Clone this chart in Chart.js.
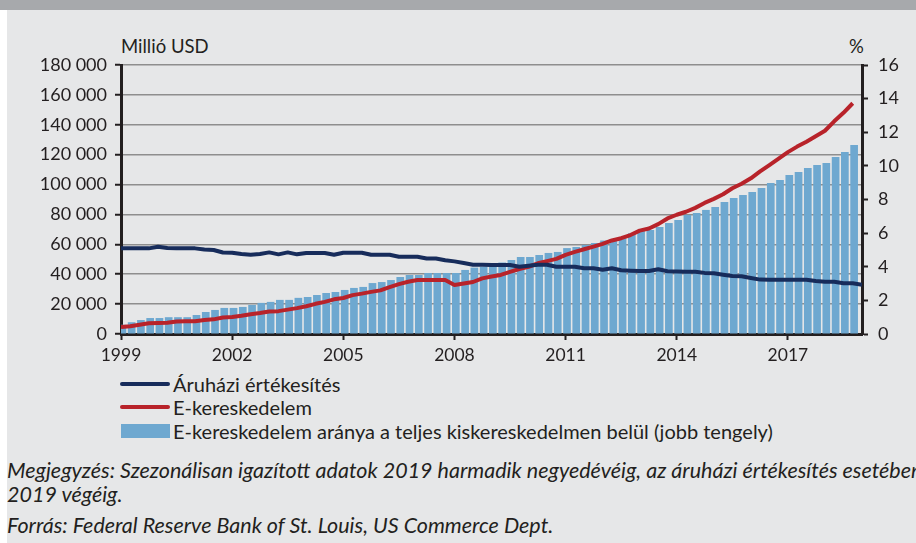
<!DOCTYPE html>
<html>
<head>
<meta charset="utf-8">
<script src="https://cdn.jsdelivr.net/npm/chart.js@4.4.1/dist/chart.umd.min.js"></script>
<style>
html,body{margin:0;padding:0;background:#fff;}
#page{position:relative;width:916px;height:543px;overflow:hidden;background:#fff;font-family:Lato,"Open Sans",sans-serif;color:#231f20;}
#topbar{position:absolute;left:0;top:0;width:916px;height:10px;background:#a7a9ac;}
#panel{position:absolute;left:7px;top:10px;width:909px;height:533px;background:#e6e7e8;}
#chartWrap{position:absolute;left:0;top:0;width:916px;height:372px;}
.lbl{position:absolute;font-size:18.5px;line-height:20px;white-space:nowrap;}
.note{font-style:italic;font-size:21.5px;line-height:24px;}
.legRow{position:absolute;left:120px;height:20px;font-size:20px;line-height:20px;white-space:nowrap;}
.legSw{position:absolute;left:0;}
.legTx{position:absolute;left:53px;top:0;}
</style>
</head>
<body>
<div id="page">
  <div id="topbar"></div>
  <div id="panel"></div>
  <div class="lbl" style="left:121px;top:36px;">Millió USD</div>
  <div class="lbl" style="left:849px;top:36px;">%</div>
  <div id="chartWrap"><canvas id="c" width="916" height="372"></canvas></div>
  <div id="legend"></div>
  <div class="lbl note" style="left:7px;top:458px;">Megjegyzés: Szezonálisan igazított adatok 2019 harmadik negyedévéig, az áruházi értékesítés esetében</div>
  <div class="lbl note" style="left:7px;top:482px;">2019 végéig.</div>
  <div class="lbl note" style="left:7px;top:513px;">Forrás: Federal Reserve Bank of St. Louis, US Commerce Dept.</div>
</div>
<script>
// Quarterly data, first observation at the start of the axis (1999), one point per quarter
const startYear = 1999;
const endYear = 2019;

const deptStoreSales = [
  57300,57300,57300,57300,58400,57500,57300,57300,57300,56500,
  56200,54500,54400,53500,53100,53500,54600,53300,54600,53300,
  54200,54200,54200,53000,54400,54400,54400,53000,53000,53000,
  51700,51700,51700,50500,50500,49300,48600,47500,46300,46300,
  46200,46200,46200,45000,45700,46300,46300,45000,45000,45000,
  44000,44000,43000,44000,42700,42400,42100,42100,43300,42000,
  41800,41700,41700,40900,40700,39700,38800,38600,37500,36400,
  36300,36300,36300,36300,36300,35500,35000,35000,34000,33900,
  32900
];

const ecommerceSales = [
  4600,5200,6200,7200,7300,7500,8400,8500,8600,9400,
  9800,11000,11400,12200,13200,14000,15000,15300,16300,17300,
  18600,20200,21500,23200,24100,26000,27000,28200,29200,31400,
  33400,35000,36100,36100,36100,36100,32800,33800,34800,37200,
  38500,39500,41600,43500,45000,47300,48800,50300,53000,55000,
  56700,58500,60300,62600,64100,66200,69200,70600,73500,77300,
  79800,81800,84400,87700,90400,93500,97500,100500,104200,108800,
  113000,117300,121700,125400,128700,132300,136000,142300,148000,154400
];

const ecommerceShare = [
  0.55,0.7,0.83,0.95,0.95,1.0,1.0,1.0,1.13,1.31,
  1.43,1.55,1.55,1.61,1.73,1.85,1.91,2.03,2.03,2.15,
  2.2,2.32,2.44,2.5,2.62,2.74,2.8,3.03,3.09,3.21,
  3.39,3.51,3.51,3.63,3.63,3.63,3.63,3.81,3.95,4.0,
  4.0,4.25,4.4,4.58,4.58,4.7,4.82,4.88,5.11,5.17,
  5.29,5.41,5.56,5.63,5.7,6.0,6.19,6.19,6.37,6.6,
  6.78,7.08,7.2,7.38,7.56,7.85,8.09,8.27,8.45,8.69,
  8.98,9.16,9.46,9.64,9.87,10.05,10.17,10.53,10.83,11.24
];

const xTickLabels = ['1999','2002','2005','2008','2011','2014','2017'];
const leftTickStep = 20000, leftMax = 180000;
const rightTickStep = 2, rightMax = 16;

const seriesLabels = ['Áruházi értékesítés','E-kereskedelem','E-kereskedelem aránya a teljes kiskereskedelmen belül (jobb tengely)'];
const colors = {navy:'#172c5b', red:'#b8232a', blue:'#6ea8d0', text:'#231f20', grid:'#8e8e8e'};

const qx = i => startYear + i / 4;
const fmtThousands = v => String(v).replace(/\B(?=(\d{3})+(?!\d))/g, ' ');
const FONT_X = {family: 'Lato, "Open Sans", sans-serif', size: 17.5};
const FONT_Y = {family: 'Lato, "Open Sans", sans-serif', size: 18};

const chart = new Chart(document.getElementById('c'), {
  type: 'bar',
  data: {
    datasets: [
      {type:'line', label: seriesLabels[0], yAxisID:'y', order:1,
       data: deptStoreSales.map((v,i)=>({x:qx(i), y:v})),
       borderColor: colors.navy, borderWidth:4, pointRadius:0, tension:0, borderJoinStyle:'round'},
      {type:'line', label: seriesLabels[1], yAxisID:'y', order:2,
       data: ecommerceSales.map((v,i)=>({x:qx(i), y:v})),
       borderColor: colors.red, borderWidth:4, pointRadius:0, tension:0, borderJoinStyle:'round'},
      {type:'bar', label: seriesLabels[2], yAxisID:'y1', order:3,
       data: ecommerceShare.map((v,i)=>({x:qx(i+0.15), y:v})),
       backgroundColor: colors.blue, barPercentage:0.83, categoryPercentage:1.0}
    ]
  },
  options: {
    responsive:false, animation:false, devicePixelRatio:1,
    layout:{padding:{top:65,left:0,right:0,bottom:0}},
    plugins:{legend:{display:false}, tooltip:{enabled:false}},
    scales:{
      x:{type:'linear', position:'bottom', min:startYear, max:endYear, offset:false,
         grid:{offset:false, drawOnChartArea:false, drawTicks:true, tickLength:6, tickColor:colors.text, tickWidth:2},
         border:{color:colors.text, width:3},
         ticks:{font:FONT_X, color:colors.text, padding:5, maxRotation:0, autoSkip:false,
                callback: v => String(v)},
         afterBuildTicks: s => { s.ticks = xTickLabels.map(l => ({value:Number(l)})); },
         afterFit: s => { s.height = 38; }
      },
      y:{type:'linear', position:'left', min:0, max:leftMax, z:1,
         grid:{color:colors.grid, lineWidth:1.5, borderDash:[2,5], tickBorderDash:[],
               tickColor:colors.text, tickWidth:2, tickLength:6, drawOnChartArea:true},
         border:{color:colors.text, width:3},
         ticks:{stepSize:leftTickStep, font:FONT_Y, color:colors.text, padding:8,
                callback: v => fmtThousands(v)},
         afterFit: s => { s.width = 121; }
      },
      y1:{type:'linear', position:'right', min:0, max:rightMax,
         grid:{drawOnChartArea:false, tickColor:colors.text, tickWidth:2, tickLength:6},
         border:{color:colors.text, width:3},
         ticks:{stepSize:rightTickStep, font:FONT_Y, color:colors.text, padding:10,
                callback: v => String(v)},
         afterFit: s => { s.width = 54; }
      }
    }
  }
});

// HTML legend built from the chart's datasets
const legend = document.getElementById('legend');
const rowTops = [374, 397, 421];
chart.data.datasets.forEach((ds, i) => {
  const row = document.createElement('div');
  row.className = 'legRow';
  row.style.top = rowTops[i] + 'px';
  const sw = document.createElement('div');
  sw.className = 'legSw';
  if (ds.type === 'line') {
    sw.style.cssText += 'top:8px;width:50px;height:4px;border-radius:2px;background:' + ds.borderColor + ';';
  } else {
    sw.style.cssText += 'top:3px;left:1px;width:49px;height:14px;background:' + ds.backgroundColor + ';';
  }
  const tx = document.createElement('div');
  tx.className = 'legTx';
  tx.textContent = ds.label;
  row.appendChild(sw); row.appendChild(tx);
  legend.appendChild(row);
});
</script>
</body>
</html>
